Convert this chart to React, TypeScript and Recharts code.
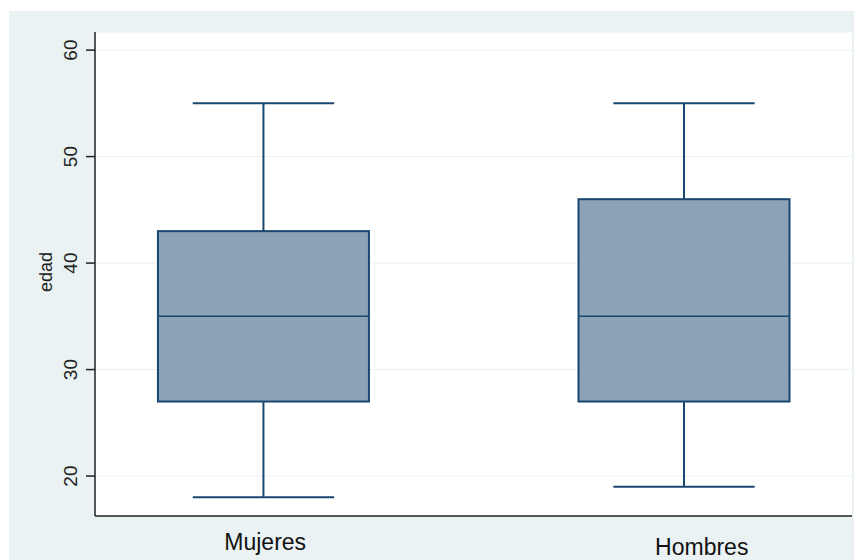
import React from "react";
import { ComposedChart, Bar, XAxis, YAxis, CartesianGrid, Label } from "recharts";

const categories = ["Mujeres", "Hombres"];
const positions = [1, 2];
const minValues = [18, 19];
const q1Values = [27, 27];
const medianValues = [35, 35];
const q3Values = [43, 46];
const maxValues = [55, 55];
const yTicks = [20, 30, 40, 50, 60];

const data = categories.map((name, i) => ({
  name,
  pos: positions[i],
  min: minValues[i],
  q1: q1Values[i],
  median: medianValues[i],
  q3: q3Values[i],
  max: maxValues[i],
}));

const NAVY = "#1a476f";
const BOX_FILL = "#8ca2b7";
const FONT = "'Liberation Sans', Arial, sans-serif";

// caja + bigotes dibujados dentro del rango [min, max] que da el Bar
function BoxShape(props: any) {
  const { x, y, width, height, payload } = props;
  const top = Math.min(y, y + height);
  const span = Math.abs(height);
  const k = span / (payload.max - payload.min);
  const py = (v: number) => top + (payload.max - v) * k;
  const cx = x + width / 2;
  const capW = width * 0.67;
  return (
    <g>
      <line x1={cx} x2={cx} y1={py(payload.max)} y2={py(payload.q3)} stroke={NAVY} strokeWidth={2} />
      <line x1={cx} x2={cx} y1={py(payload.q1)} y2={py(payload.min)} stroke={NAVY} strokeWidth={2} />
      <line x1={cx - capW / 2} x2={cx + capW / 2} y1={py(payload.max)} y2={py(payload.max)} stroke={NAVY} strokeWidth={2} />
      <line x1={cx - capW / 2} x2={cx + capW / 2} y1={py(payload.min)} y2={py(payload.min)} stroke={NAVY} strokeWidth={2} />
      <rect
        x={x}
        y={py(payload.q3)}
        width={width}
        height={py(payload.q1) - py(payload.q3)}
        fill={BOX_FILL}
        stroke={NAVY}
        strokeWidth={2}
      />
      <line x1={x} x2={x + width} y1={py(payload.median)} y2={py(payload.median)} stroke={NAVY} strokeWidth={1.5} />
    </g>
  );
}

// las etiquetas del eje x no están a la misma altura en el original
const labelShift = [
  { dx: 2, dy: 34 },
  { dx: 18, dy: 39 },
];

function XTick(props: any) {
  const { x, payload, index } = props;
  const i = positions.indexOf(payload.value);
  const s = labelShift[i] || labelShift[index] || { dx: 0, dy: 34 };
  return (
    <text x={x + s.dx} y={516 + s.dy} textAnchor="middle" fontSize={23} fontFamily={FONT} fill="#111">
      {categories[i]}
    </text>
  );
}

function YTick(props: any) {
  const { y, payload } = props;
  return (
    <text
      x={77}
      y={y}
      transform={`rotate(-90, 77, ${y})`}
      textAnchor="middle"
      fontSize={19}
      fontFamily={FONT}
      fill="#222"
    >
      {payload.value}
    </text>
  );
}

export default function App() {
  return (
    <div style={{ position: "absolute", left: 0, top: 0, width: 861, height: 560, background: "#fff" }}>
      <div style={{ position: "absolute", left: 9, top: 11, width: 845, height: 549, background: "#eaf2f3" }} />
      <div style={{ position: "absolute", left: 0, top: 0 }}>
        <ComposedChart
          width={861}
          height={560}
          data={data}
          margin={{ top: 32, right: 9, bottom: 4, left: 35 }}
        >
          <CartesianGrid vertical={false} stroke="#eaf0f2" fill="#fff" />
          <XAxis
            dataKey="pos"
            type="number"
            domain={[0.6, 2.4]}
            ticks={positions}
            height={40}
            tickLine={false}
            axisLine={{ stroke: "#222", strokeWidth: 1.5 }}
            tick={<XTick />}
            allowDataOverflow
          />
          <YAxis
            type="number"
            domain={[16.25, 61.7]}
            ticks={yTicks}
            width={60}
            tickSize={9}
            tickLine={{ stroke: "#222", strokeWidth: 1.5 }}
            axisLine={{ stroke: "#222", strokeWidth: 1.5 }}
            tick={<YTick />}
            allowDataOverflow
          >
            <Label
              content={(p: any) => {
                const vb = p.viewBox;
                const cy = vb.y + vb.height / 2 - 2;
                return (
                  <text
                    x={52}
                    y={cy}
                    transform={`rotate(-90, 52, ${cy})`}
                    textAnchor="middle"
                    fontSize={18}
                    fontFamily={FONT}
                    fill="#222"
                  >
                    edad
                  </text>
                );
              }}
            />
          </YAxis>
          <Bar
            dataKey={(d: any) => [d.min, d.max]}
            barSize={211}
            shape={<BoxShape />}
            isAnimationActive={false}
          />
        </ComposedChart>
      </div>
    </div>
  );
}
